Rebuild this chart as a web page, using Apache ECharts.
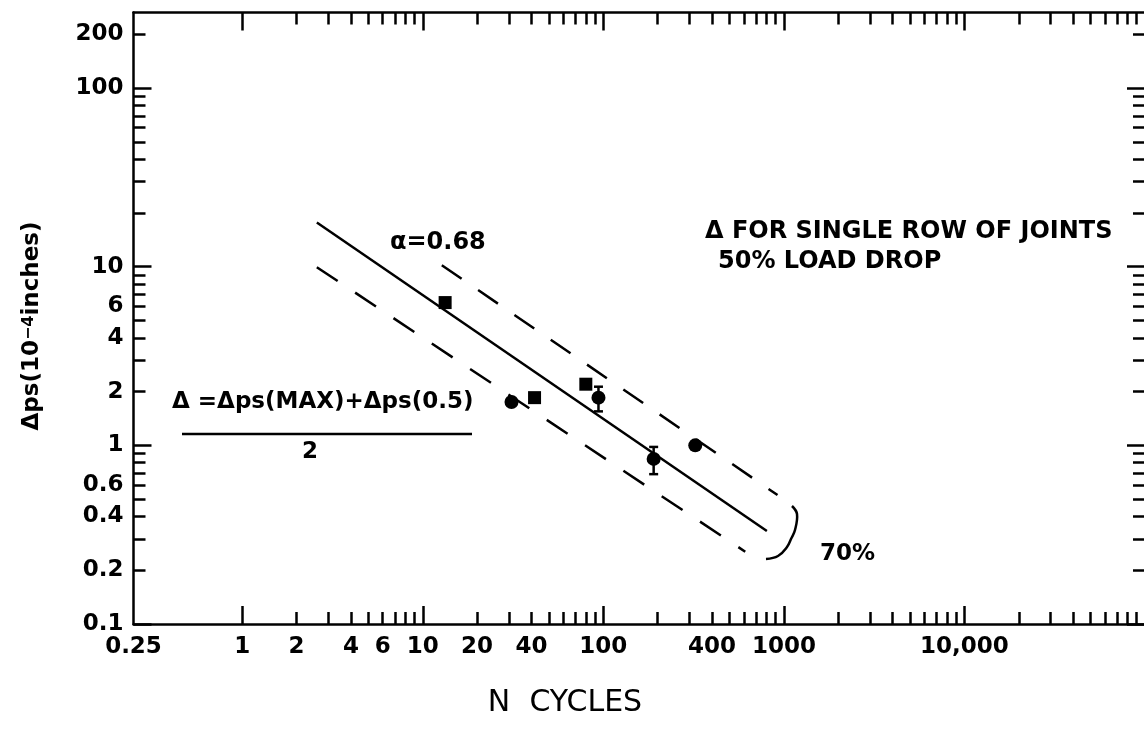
<!DOCTYPE html>
<html>
<head>
<meta charset="utf-8">
<script src="https://cdn.jsdelivr.net/npm/echarts@6.0.0/dist/echarts.min.js"></script>
<style>
  html, body { margin: 0; padding: 0; background: #fff; }
  #chart { width: 1144px; height: 736px; }
</style>
</head>
<body>
<div id="chart"></div>
<script>
// tick labels
const xTickValues = [0.25, 1, 2, 4, 6, 10, 20, 40, 100, 400, 1000, 10000]
const xTickLabels = ['0.25', '1', '2', '4', '6', '10', '20', '40', '100', '400', '1000', '10,000']
const yTickValues = [0.1, 0.2, 0.4, 0.6, 1, 2, 4, 6, 10, 100, 200]
const yTickLabels = ['0.1', '0.2', '0.4', '0.6', '1', '2', '4', '6', '10', '100', '200']

// measured points (N cycles, delta ps)
const squareCycles = [13.3, 41.6, 80]
const squareDelta = [6.3, 1.85, 2.2]
const circleCycles = [31, 94, 190, 323]
const circleDelta = [1.75, 1.85, 0.84, 1.0]
const errCycles = [94, 190]
const errLow = [1.55, 0.69]
const errHigh = [2.13, 0.98]

// fitted line and the 70% band
const fitCycles = [2.59, 805]
const fitDelta = [17.7, 0.332]
const upperCycles = [12.75, 922]
const upperDelta = [10.2, 0.527]
const lowerCycles = [2.59, 611]
const lowerDelta = [9.94, 0.254]

const X_MIN = 0.25, X_MAX = 100000, Y_MIN = 0.1, Y_MAX = 265
const lg = Math.log10
const FONT = '"DejaVu Sans", sans-serif'

// log paper ticks: decades long, 2..9 short (from 'from' upward)
function logTicks(lo, hi, from) {
  const major = [], minor = []
  for (let k = Math.floor(lg(lo)); k <= Math.ceil(lg(hi)); k++) {
    for (let d = 1; d <= 9; d++) {
      const v = lg(d * Math.pow(10, k))
      if (v < lg(from) - 1e-9 || v > lg(hi) + 1e-9) continue
      ;(d === 1 ? major : minor).push(v)
    }
  }
  return { major, minor }
}
const xt = logTicks(X_MIN, X_MAX, 1)
const yt = logTicks(Y_MIN, Y_MAX, Y_MIN)

function labelFor(values, labels) {
  return v => {
    const i = values.findIndex(t => Math.abs(lg(t) - v) < 1e-6)
    return i < 0 ? '' : labels[i]
  }
}

function axis(position, min, max, ticks, len, main, labels) {
  return {
    type: 'value',
    position: position,
    min: min,
    max: max,
    splitLine: { show: false },
    axisLine: { show: main, onZero: false, lineStyle: { color: '#000', width: 2.5 } },
    axisTick: { show: true, inside: true, length: len, customValues: ticks, lineStyle: { color: '#000', width: 2.5 } },
    axisLabel: labels ? {
      show: true,
      customValues: labels.values.map(lg),
      formatter: labelFor(labels.values, labels.text),
      color: '#000',
      fontFamily: FONT,
      fontWeight: 'bold',
      fontSize: 23,
      margin: labels.margin,
    } : { show: false },
  }
}

const xr = [lg(X_MIN), lg(X_MAX)]
const yr = [lg(Y_MIN), lg(Y_MAX)]

const toPts = (xs, ys) => xs.map((x, i) => [lg(x), lg(ys[i])])

const center = { textAlign: 'center', textVerticalAlign: 'middle', align: 'center', verticalAlign: 'middle' }
const leftMid = { textAlign: 'left', textVerticalAlign: 'middle', align: 'left', verticalAlign: 'middle' }

const option = {
  animation: false,
  backgroundColor: '#fff',
  grid: { left: 133.5, top: 12.5, right: -1, bottom: 112, containLabel: false, outerBoundsMode: 'none' },
  xAxis: [
    axis('bottom', xr[0], xr[1], xt.major, 18, true, { values: xTickValues, text: xTickLabels, margin: 12 }),
    axis('bottom', xr[0], xr[1], xt.minor, 12, false),
    axis('top', xr[0], xr[1], xt.major, 18, true),
    axis('top', xr[0], xr[1], xt.minor, 12, false),
  ],
  yAxis: [
    axis('left', yr[0], yr[1], yt.major, 18, true, { values: yTickValues, text: yTickLabels, margin: 10 }),
    axis('left', yr[0], yr[1], yt.minor, 12, false),
    axis('right', yr[0], yr[1], yt.major, 18, true),
    axis('right', yr[0], yr[1], yt.minor, 12, false),
  ],
  series: [
    {
      type: 'line', data: toPts(fitCycles, fitDelta), showSymbol: false, silent: true,
      lineStyle: { color: '#000', width: 2.5 },
    },
    {
      type: 'line', data: toPts(upperCycles, upperDelta), showSymbol: false, silent: true,
      lineStyle: { color: '#000', width: 2.5, type: [24, 20] },
    },
    {
      type: 'line', data: toPts(lowerCycles, lowerDelta), showSymbol: false, silent: true,
      lineStyle: { color: '#000', width: 2.5, type: [25, 21] },
    },
    {
      type: 'custom',
      data: errCycles.map((c, i) => [lg(c), lg(errLow[i]), lg(errHigh[i])]),
      renderItem: (params, api) => {
        const lo = api.coord([api.value(0), api.value(1)])
        const hi = api.coord([api.value(0), api.value(2)])
        const cap = 4.5
        const st = { stroke: '#000', lineWidth: 2.5 }
        return {
          type: 'group',
          children: [
            { type: 'line', shape: { x1: lo[0], y1: lo[1], x2: hi[0], y2: hi[1] }, style: st },
            { type: 'line', shape: { x1: lo[0] - cap, y1: lo[1], x2: lo[0] + cap, y2: lo[1] }, style: st },
            { type: 'line', shape: { x1: hi[0] - cap, y1: hi[1], x2: hi[0] + cap, y2: hi[1] }, style: st },
          ],
        }
      },
    },
    {
      type: 'scatter', symbol: 'rect', symbolSize: 13,
      data: toPts(squareCycles, squareDelta),
      itemStyle: { color: '#000', opacity: 1 },
    },
    {
      type: 'scatter', symbol: 'circle', symbolSize: 14,
      data: toPts(circleCycles, circleDelta),
      itemStyle: { color: '#000', opacity: 1 },
    },
  ],
  graphic: [
    {
      type: 'text', x: 32, y: 326, rotation: Math.PI / 2,
      style: Object.assign({
        text: '{a|Δps(10}{s|−4}{a|inches)}',
        fill: '#000',
        rich: {
          a: { font: 'bold 23px ' + FONT, fill: '#000' },
          s: { font: 'bold 16px ' + FONT, fill: '#000', verticalAlign: 'top' },
        },
      }, center),
    },
    {
      type: 'text', x: 565, y: 703,
      style: Object.assign({ text: 'N  CYCLES', font: '30px ' + FONT, fill: '#000' }, center),
    },
    {
      type: 'text', x: 390, y: 243,
      style: Object.assign({ text: 'α=0.68', font: 'bold 24px ' + FONT, fill: '#000' }, leftMid),
    },
    {
      type: 'text', x: 705, y: 232,
      style: Object.assign({ text: 'Δ FOR SINGLE ROW OF JOINTS', font: 'bold 24px ' + FONT, fill: '#000' }, leftMid),
    },
    {
      type: 'text', x: 718, y: 262,
      style: Object.assign({ text: '50% LOAD DROP', font: 'bold 24px ' + FONT, fill: '#000' }, leftMid),
    },
    {
      type: 'text', x: 172, y: 402,
      style: Object.assign({ text: 'Δ =Δps(MAX)+Δps(0.5)', font: 'bold 23px ' + FONT, fill: '#000' }, leftMid),
    },
    {
      type: 'line', shape: { x1: 182, y1: 434, x2: 472, y2: 434 },
      style: { stroke: '#000', lineWidth: 2.5 },
    },
    {
      type: 'text', x: 310, y: 452,
      style: Object.assign({ text: '2', font: 'bold 23px ' + FONT, fill: '#000' }, center),
    },
    {
      type: 'polyline',
      shape: { points: [[792, 506], [797, 514], [795, 530], [791, 539], [787, 547], [778, 556], [766, 559]], smooth: 0.4 },
      style: { stroke: '#000', lineWidth: 2.5, fill: null },
    },
    {
      type: 'text', x: 820, y: 554,
      style: Object.assign({ text: '70%', font: 'bold 23px ' + FONT, fill: '#000' }, leftMid),
    },
  ],
}

const myChart = echarts.init(document.getElementById('chart'), null, { renderer: 'canvas' })
myChart.setOption(option)
</script>
</body>
</html>
